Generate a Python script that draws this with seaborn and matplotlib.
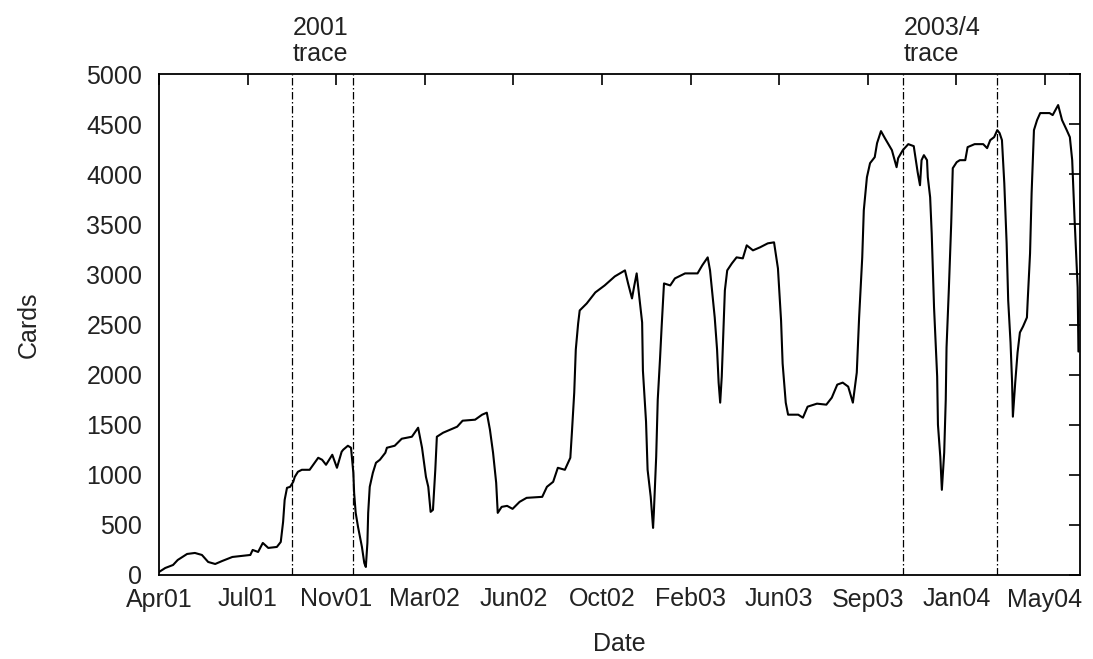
import matplotlib
matplotlib.use("Agg")
import matplotlib.pyplot as plt
import matplotlib.transforms as mtransforms
import numpy as np
import pandas as pd
import seaborn as sns

# Days elapsed since 1 April 2001 and the number of active cards on that day
day = [0, 8, 18, 24, 36, 46, 55, 63, 72, 81, 94, 106, 117, 120, 127, 133, 140,
       151, 156, 159, 161, 164, 168, 172, 174, 178, 183, 193, 204, 209, 214,
       222, 228, 234, 236, 242, 246, 249, 250, 252, 255, 260, 263, 265, 267,
       268, 270, 274, 278, 283, 290, 292, 302, 311, 324, 332, 337, 342, 345,
       348, 351, 354, 356, 364, 373, 382, 389, 405, 414, 420, 424, 428, 432,
       434, 439, 446, 453, 462, 471, 491, 497, 505, 511, 520, 527, 529, 532,
       534, 537, 539, 548, 559, 571, 584, 597, 601, 606, 609, 612, 614, 619,
       620, 624, 626, 630, 633, 634, 637, 639, 642, 644, 647, 655, 661, 674,
       690, 696, 703, 706, 709, 712, 715, 717, 719, 721, 723, 725, 728, 734,
       740, 748, 753, 761, 770, 780, 788, 793, 797, 799, 803, 806, 819, 825,
       831, 843, 855, 862, 869, 876, 883, 889, 894, 897, 901, 903, 907, 911,
       917, 920, 925, 930, 939, 945, 947, 953, 960, 967, 972, 975, 977, 980,
       984, 985, 988, 990, 993, 997, 998, 1001, 1003, 1006, 1008, 1009, 1012,
       1015, 1017, 1022, 1026, 1033, 1036, 1045, 1056, 1061, 1065, 1070, 1074,
       1077, 1080, 1083, 1086, 1088, 1091, 1093, 1094, 1097, 1100, 1103, 1107,
       1112, 1113, 1116, 1118, 1121, 1125, 1129, 1141, 1145, 1152, 1157, 1163,
       1167, 1170, 1173, 1177, 1178]
cards = [30, 70, 100, 150, 210, 220, 200, 130, 110, 140, 180, 190, 200, 250,
         230, 320, 270, 280, 330, 530, 750, 870, 880, 930, 980, 1030, 1050,
         1050, 1170, 1150, 1100, 1200, 1070, 1230, 1250, 1290, 1270, 1020, 820,
         620, 480, 280, 120, 80, 320, 620, 880, 1020, 1120, 1150, 1220, 1270,
         1290, 1360, 1380, 1470, 1270, 980, 880, 630, 650, 1050, 1380, 1420,
         1450, 1480, 1540, 1550, 1600, 1620, 1450, 1220, 920, 620, 680, 690,
         660, 730, 770, 780, 880, 930, 1070, 1050, 1170, 1420, 1820, 2250,
         2510, 2640, 2710, 2820, 2890, 2980, 3040, 2910, 2760, 2890, 3010,
         2870, 2520, 2040, 1530, 1050, 780, 470, 620, 1180, 1750, 2170, 2480,
         2910, 2890, 2960, 3010, 3010, 3090, 3170, 3040, 2810, 2570, 2250,
         1920, 1720, 1980, 2410, 2840, 3040, 3110, 3170, 3160, 3290, 3240,
         3270, 3310, 3320, 3060, 2540, 2110, 1720, 1600, 1600, 1570, 1680,
         1710, 1700, 1770, 1900, 1920, 1880, 1720, 2020, 2570, 3170, 3640,
         3970, 4110, 4170, 4310, 4430, 4360, 4240, 4070, 4160, 4240, 4300,
         4280, 4020, 3890, 4140, 4190, 4140, 3970, 3770, 3410, 2670, 1980,
         1500, 1180, 850, 1220, 1750, 2270, 2860, 3510, 4060, 4120, 4140, 4140,
         4270, 4300, 4300, 4260, 4340, 4370, 4440, 4410, 4340, 3910, 3310,
         2740, 2320, 1920, 1580, 1920, 2220, 2420, 2480, 2570, 2740, 3210,
         3810, 4440, 4540, 4610, 4610, 4590, 4690, 4540, 4440, 4370, 4140,
         3560, 2870, 2230]

# Trace collection windows (start, end), in days since 1 April 2001
trace_names = ["2001\ntrace", "2003/4\ntrace"]
trace_start = [170, 953]
trace_end = [248.5, 1074]

# Date axis: one tick every 113.5 days from 1 April 2001
tick_step = 113.5
tick_labels = ["Apr01", "Jul01", "Nov01", "Mar02", "Jun02", "Oct02",
               "Feb03", "Jun03", "Sep03", "Jan04", "May04"]
y_ticks = [0, 500, 1000, 1500, 2000, 2500, 3000, 3500, 4000, 4500, 5000]

sns.set_style("white")
plt.rcParams["font.family"] = ["Liberation Sans", "DejaVu Sans"]
text_color = "#222222"
fs = 18

df = pd.DataFrame({"Date": day, "Cards": cards})

fig = plt.figure(figsize=(10.93, 6.59), dpi=100)
ax = fig.add_axes([159 / 1093, 1 - 575 / 659, (1080 - 159) / 1093, (575 - 74) / 659])

sns.lineplot(data=df, x="Date", y="Cards", ax=ax, color="black",
             linewidth=1.5, sort=False, estimator=None)

for s, e in zip(trace_start, trace_end):
    for xv in (s, e):
        ax.axvline(xv, color="black", linewidth=0.9,
                   linestyle=(0, (6, 2, 1.2, 2)))

trans = mtransforms.blended_transform_factory(ax.transData, ax.transAxes)
for name, s in zip(trace_names, trace_start):
    ax.text(s + 1, 1.016, name, transform=trans, ha="left", va="bottom",
            fontsize=fs, color=text_color, linespacing=1.1)

ax.set_xlim(0, 1180)
ax.set_ylim(0, 5000)
ax.set_xticks([k * tick_step for k in range(len(tick_labels))])
ax.set_xticklabels(tick_labels)
ax.set_yticks(y_ticks)

for side in ["top", "bottom", "left", "right"]:
    ax.spines[side].set_visible(True)
    ax.spines[side].set_color("black")
    ax.spines[side].set_linewidth(1.3)

ax.tick_params(axis="both", which="major", direction="in", length=8,
               width=1.2, color="black", labelsize=fs, labelcolor=text_color,
               top=True, right=True)
ax.tick_params(axis="x", pad=9)
ax.tick_params(axis="y", pad=12)

ax.set_xlabel("Date", fontsize=fs, color=text_color, labelpad=15)
ax.set_ylabel("Cards", fontsize=fs, color=text_color, labelpad=33)

fig.savefig("out.png", dpi=100)
